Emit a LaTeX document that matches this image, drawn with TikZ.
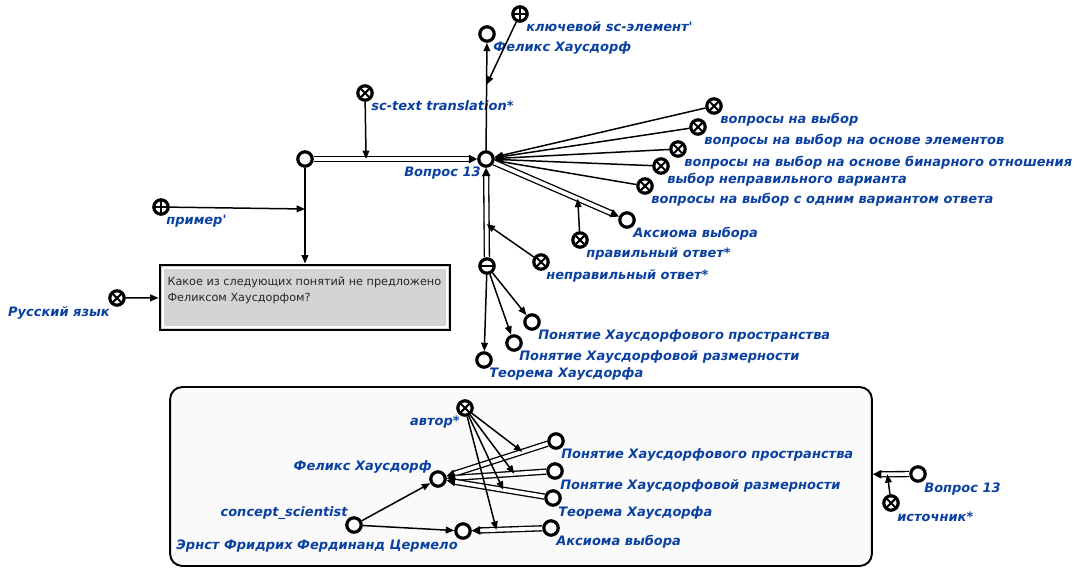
\documentclass[tikz,border=0pt]{standalone}
\usepackage{fontspec}
\setmainfont{DejaVu Sans}
\usetikzlibrary{arrows.meta,positioning,calc}

\definecolor{scblue}{RGB}{10,64,160}

\begin{document}
\begin{tikzpicture}[x=0.02cm, y=-0.02cm,
  every node/.style={font=\fontsize{7.4}{9}\selectfont},
  elem/.style={draw, circle, line width=1.8pt, fill=white, minimum size=8.2pt, inner sep=0pt},
  rel/.style={elem, path picture={
    \draw[line width=1.2pt] ([shift={(-2.9pt,-2.9pt)}]path picture bounding box.center) -- ++(5.8pt,5.8pt)
      ([shift={(-2.9pt,2.9pt)}]path picture bounding box.center) -- ++(5.8pt,-5.8pt);}},
  keyel/.style={elem, path picture={
    \draw[line width=1.2pt] ([xshift=-4.5pt]path picture bounding box.center) -- ++(9pt,0pt)
      ([yshift=-4.5pt]path picture bounding box.center) -- ++(0pt,9pt);}},
  negel/.style={elem, path picture={
    \draw[line width=1.2pt] ([xshift=-4.5pt]path picture bounding box.center) -- ++(9pt,0pt);}},
  lbl/.style={text=scblue, font=\fontsize{7.4}{9}\selectfont\bfseries\itshape, inner sep=0pt},
  edge/.style={line width=0.85pt, -{Triangle[length=4.8pt,width=3.8pt]}},
  pairarc/.style={double=white, double distance=2.1pt, line width=0.75pt, -{Triangle[length=4.8pt,width=4.8pt]}},
  textbox/.style={draw, line width=1.6pt, fill=black!17, minimum width=5.8cm, minimum height=1.3cm, inner sep=0pt,
    path picture={
      \draw[white, line width=1pt] ([shift={(1.6pt,-1.6pt)}]path picture bounding box.north west)
        rectangle ([shift={(-1.6pt,1.6pt)}]path picture bounding box.south east);
      \fill (path picture bounding box.north west) -- ++(3.2pt,0pt) -- ++(-3.2pt,-3.2pt) -- cycle;}},
  contour/.style={draw, line width=1.1pt, rounded corners=7pt, fill=black!2}
]
\useasboundingbox (0,0) rectangle (1080,583);

% upper part: question
\node[keyel] (key) at (520,14) {};
\node[elem] (fhtop) at (487,34) {};
\node[rel] (sctt) at (365,93) {};
\node[elem] (sp) at (305,159) {};
\node[elem] (q13) at (486,159) {};
\node[rel] (c1) at (714,106) {};
\node[rel] (c2) at (698,127) {};
\node[rel] (c3) at (678,149) {};
\node[rel] (c4) at (661,166) {};
\node[rel] (c5) at (645,186) {};
\node[elem] (axtop) at (627,220) {};
\node[rel] (right) at (580,240) {};
\node[negel] (neg) at (487,266) {};
\node[rel] (wrong) at (541,262) {};
\node[elem] (hsp) at (532,322) {};
\node[elem] (hdim) at (514,343) {};
\node[elem] (thm) at (484,360) {};
\node[keyel] (ex) at (161,207) {};
\node[rel] (rus) at (117,298) {};
\node[textbox] (txt) at (305,297.5) {\parbox[c][1.2cm][t]{5.5cm}{\raggedright\fontsize{6.4}{9.1}\selectfont\color{black!85}%
  \vspace*{0.18cm}Какое из следующих понятий не предложено\\Феликсом Хаусдорфом?}};

% labels
\node[lbl, anchor=base west] (lkey) at ($(key)+(6,17)$) {ключевой sc-элемент\textquotesingle};
\node[lbl, anchor=base west] (lfhtop) at ($(fhtop)+(6,17)$) {Феликс Хаусдорф};
\node[lbl, anchor=base west] (lsctt) at ($(sctt)+(6,17)$) {sc-text translation*};
\node[lbl, anchor=base east] (lq13) at ($(q13)+(-5,17)$) {Вопрос 13};
\node[lbl, anchor=base west] (lc1) at ($(c1)+(6,17)$) {вопросы на выбор};
\node[lbl, anchor=base west] (lc2) at ($(c2)+(6,17)$) {вопросы на выбор на основе элементов};
\node[lbl, anchor=base west] (lc3) at ($(c3)+(6,17)$) {вопросы на выбор на основе бинарного отношения};
\node[lbl, anchor=base west] (lc4) at ($(c4)+(6,17)$) {выбор неправильного варианта};
\node[lbl, anchor=base west] (lc5) at ($(c5)+(6,17)$) {вопросы на выбор с одним вариантом ответа};
\node[lbl, anchor=base west] (laxtop) at ($(axtop)+(6,17)$) {Аксиома выбора};
\node[lbl, anchor=base west] (lright) at ($(right)+(6,17)$) {правильный ответ*};
\node[lbl, anchor=base west] (lwrong) at ($(wrong)+(5,17)$) {неправильный ответ*};
\node[lbl, anchor=base west] (lhsp) at ($(hsp)+(6,17)$) {Понятие Хаусдорфового пространства};
\node[lbl, anchor=base west] (lhdim) at ($(hdim)+(5,17)$) {Понятие Хаусдорфовой размерности};
\node[lbl, anchor=base west] (lthm) at ($(thm)+(5,17)$) {Теорема Хаусдорфа};
\node[lbl, anchor=base west] (lex) at ($(ex)+(5,17)$) {пример\textquotesingle};
\node[lbl, anchor=base east] (lrus) at ($(rus)+(-7,18)$) {Русский язык};

% edges
\draw[edge] (q13) -- coordinate[pos=0.61] (mkey) (fhtop);
\draw[edge] (key) -- (mkey);
\draw[pairarc] (sp) -- coordinate[pos=0.32] (mtr) (q13);
\draw[edge] (sctt) -- (mtr);
\draw[edge] (sp) -- coordinate[pos=0.43] (mex) (txt);
\draw[edge] (ex) -- (mex);
\draw[edge] (rus) -- (txt);
\foreach \s in {c1,c2,c3,c4,c5}
  \draw[edge] (\s) -- (q13);
\draw[pairarc] (q13) -- coordinate[pos=0.67] (mright) (axtop);
\draw[edge] (right) -- (mright);
\draw[pairarc] (neg) -- coordinate[pos=0.37] (mwrong) (q13);
\draw[edge] (wrong) -- (mwrong);
\foreach \t in {hsp,hdim,thm}
  \draw[edge] (neg) -- (\t);

% lower part: authors
\node[contour, minimum width=14.04cm, minimum height=3.58cm] (frame) at (521,476.5) {};
\node[rel] (author) at (465,408) {};
\node[elem] (fh) at (438,479) {};
\node[elem] (cs) at (354,525) {};
\node[elem] (zerm) at (463,531) {};
\node[elem] (p1) at (556,441) {};
\node[elem] (p2) at (555,471) {};
\node[elem] (th) at (553,498) {};
\node[elem] (ax) at (551,528) {};
\node[elem] (q13b) at (918,474) {};
\node[rel] (src) at (891,503) {};

\node[lbl, anchor=base east] (lauthor) at ($(author)+(-5,17)$) {автор*};
\node[lbl, anchor=base east] (lfh) at ($(fh)+(-6,-9)$) {Феликс Хаусдорф};
\node[lbl, anchor=base east] (lcs) at ($(cs)+(-6,-9)$) {concept\_scientist};
\node[lbl, anchor=base east] (lzerm) at ($(zerm)+(-5,18)$) {Эрнст Фридрих Фердинанд Цермело};
\node[lbl, anchor=base west] (lp1) at ($(p1)+(5,17)$) {Понятие Хаусдорфового пространства};
\node[lbl, anchor=base west] (lp2) at ($(p2)+(5,18)$) {Понятие Хаусдорфовой размерности};
\node[lbl, anchor=base west] (lth) at ($(th)+(5,18)$) {Теорема Хаусдорфа};
\node[lbl, anchor=base west] (lax) at ($(ax)+(5,17)$) {Аксиома выбора};
\node[lbl, anchor=base west] (lq13b) at ($(q13b)+(6,18)$) {Вопрос 13};
\node[lbl, anchor=base west] (lsrc) at ($(src)+(6,18)$) {источник*};

\draw[pairarc] (p1) -- coordinate[pos=0.25] (ma1) (fh);
\draw[pairarc] (p2) -- coordinate[pos=0.32] (ma2) (fh);
\draw[pairarc] (th) -- coordinate[pos=0.42] (ma3) (fh);
\draw[pairarc] (ax) -- coordinate[pos=0.65] (ma4) (zerm);
\foreach \m in {ma1,ma2,ma3,ma4}
  \draw[edge] (author) -- (\m);
\draw[edge] (cs) -- (fh);
\draw[edge] (cs) -- (zerm);
\draw[pairarc] (q13b) -- coordinate[pos=0.6] (msrc) (frame);
\draw[edge] (src) -- (msrc);
\end{tikzpicture}
\end{document}
